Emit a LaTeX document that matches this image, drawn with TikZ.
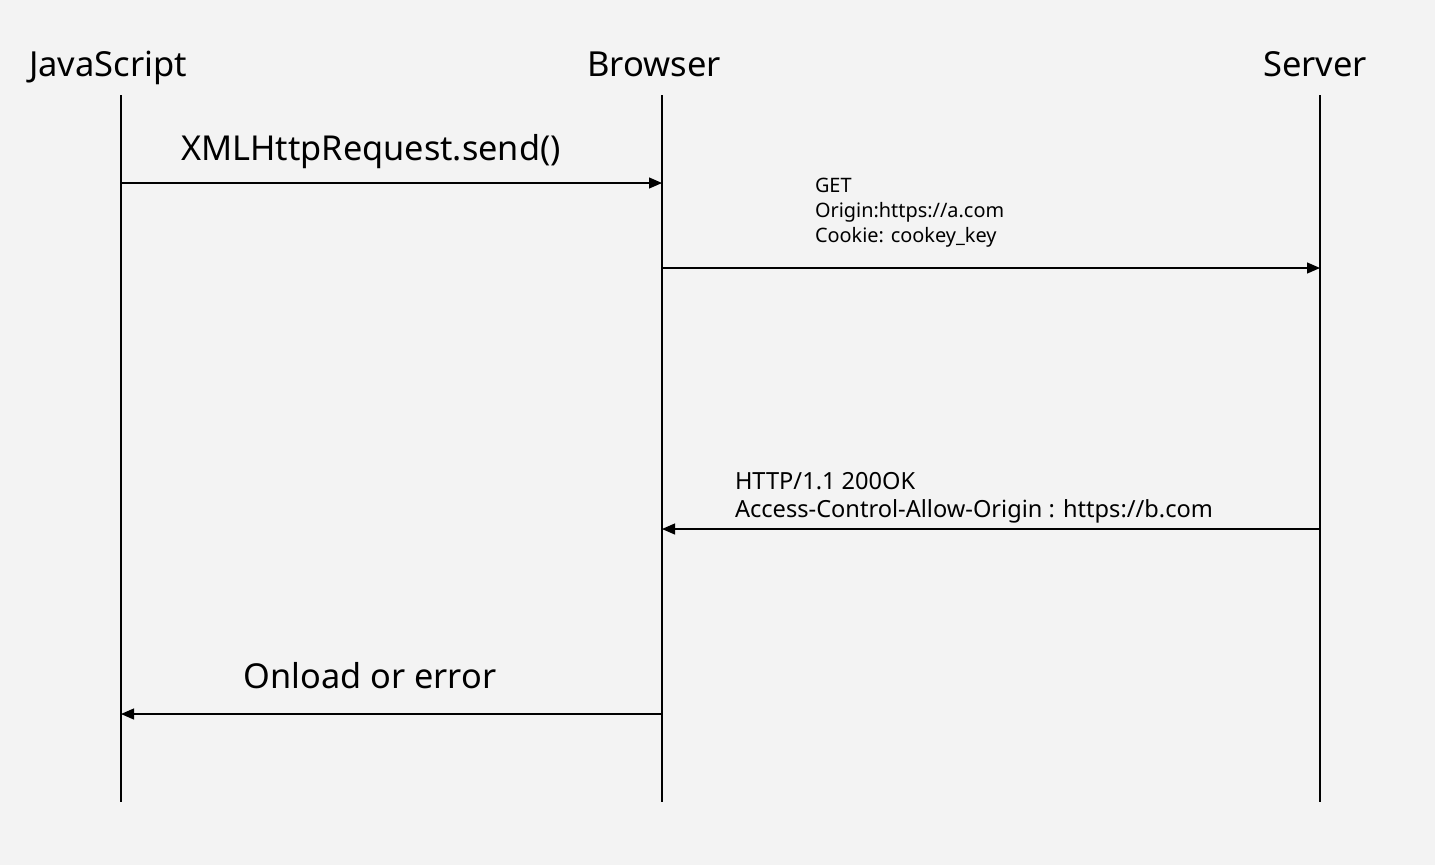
\documentclass[tikz,border=0pt]{standalone}
\usepackage{fontspec}
\setmainfont{Noto Sans}
\usetikzlibrary{arrows.meta}
\definecolor{bgcol}{HTML}{F3F3F3}

\begin{document}
\begin{tikzpicture}[
		x=1pt,y=-1pt,
		every node/.style={inner sep=0pt,outer sep=0pt},
		actor/.style={font=\fontsize{34.5}{41}\selectfont,anchor=base},
		biglabel/.style={font=\fontsize{34.3}{41}\selectfont,anchor=base},
		smalllabel/.style={font=\fontsize{19.9}{25}\selectfont,align=left,anchor=north west},
		midlabel/.style={font=\fontsize{23.6}{28}\selectfont,align=left,anchor=north west},
		lifeline/.style={line width=1.2pt},
		msg/.style={line width=1.2pt,-{Triangle[length=13pt,width=11pt]}}
		]
		\useasboundingbox[fill=bgcol] (0,0) rectangle (1435,865);
		% actors
		\node[actor] (js) at (108,76) {JavaScript};
		\node[actor] (br) at (654,76) {Browser};
		\node[actor] (sv) at (1315,76) {Server};
		% lifelines
		\coordinate (js top) at (121,95);
		\coordinate (js bot) at (121,802);
		\coordinate (br top) at (662,95);
		\coordinate (br bot) at (662,802);
		\coordinate (sv top) at (1320,95);
		\coordinate (sv bot) at (1320,802);
		\draw[lifeline] (js top) -- (js bot);
		\draw[lifeline] (br top) -- (br bot);
		\draw[lifeline] (sv top) -- (sv bot);
		% messages
		\coordinate (js 1) at (121,183);
		\coordinate (br 1) at (662,183);
		\coordinate (br 2) at (662,268);
		\coordinate (sv 2) at (1320,268);
		\coordinate (sv 3) at (1320,529);
		\coordinate (br 3) at (662,529);
		\coordinate (br 4) at (662,714);
		\coordinate (js 4) at (121,714);
		\draw[msg] (js 1) -- (br 1);
		\draw[msg] (br 2) -- (sv 2);
		\draw[msg] (sv 3) -- (br 3);
		\draw[msg] (br 4) -- (js 4);
		% labels
		\node[biglabel] (send) at (371,160) {XMLHttpRequest.send()};
		\node[smalllabel] (get) at (815,178) {GET\\Origin:https://a.com\\Cookie: cookey\_key};
		\node[midlabel] (resp) at (735,472) {HTTP/1.1 200OK\\Access-Control-Allow-Origin : https://b.com};
		\node[biglabel] (onload) at (370,688) {Onload or error};
\end{tikzpicture}
\end{document}
